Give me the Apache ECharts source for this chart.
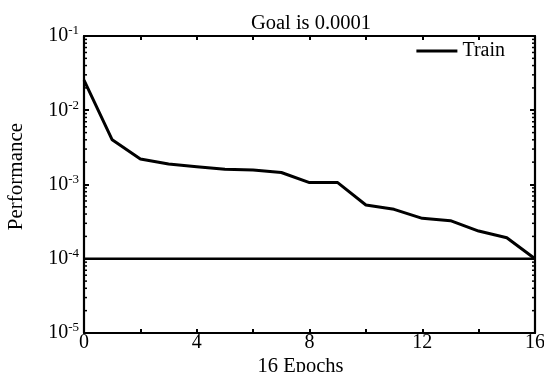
<!DOCTYPE html>
<html>
<head>
<meta charset="utf-8">
<script src="https://cdn.jsdelivr.net/npm/echarts@6/dist/echarts.min.js"></script>
<style>
  html, body { margin: 0; padding: 0; background: #fff; }
  #chart { width: 544px; height: 372px; }
</style>
</head>
<body>
<div id="chart"></div>
<script>
const epochs = [0, 1, 2, 3, 4, 5, 6, 7, 8, 9, 10, 11, 12, 13, 14, 15, 16];
const trainPerf = [0.0255, 0.0040, 0.0022, 0.00189, 0.00174, 0.0016, 0.00157, 0.00145,
  0.00106, 0.00106, 0.00053, 0.000463, 0.00035, 0.000326, 0.000236, 0.000192, 0.0001];
const goal = 0.0001;
const xLabelled = [0, 4, 8, 12, 16];
const decades = [-5, -4, -3, -2];

// minor ticks of the log axis: 2..9 x 10^d
const minorTicks = [];
decades.forEach(d => {
  for (let k = 2; k <= 9; k++) minorTicks.push([0, k * Math.pow(10, d)]);
});

const font = 'Liberation Serif';
const fs = 20;
const chart = echarts.init(document.getElementById('chart'));

const axisLineStyle = { color: '#000', width: 2.2 };

const xCommon = {
  type: 'value',
  min: 0,
  max: 16,
  interval: 2,
  axisLine: { show: true, onZero: false, lineStyle: axisLineStyle },
  axisTick: { show: true, inside: true, length: 4, lineStyle: { color: '#000', width: 2 } },
  splitLine: { show: false }
};

const yCommon = {
  type: 'log',
  logBase: 10,
  min: 1e-5,
  max: 1e-1,
  axisLine: { show: true, onZero: false, lineStyle: axisLineStyle },
  axisTick: { show: true, inside: true, length: 5, lineStyle: { color: '#000', width: 2 } },
  splitLine: { show: false }
};

chart.setOption({
  animation: false,
  backgroundColor: '#fff',
  title: {
    text: 'Goal is 0.0001',
    left: 306,
    textAlign: 'center',
    top: 8,
    textStyle: { fontFamily: font, fontSize: 20.5, fontWeight: 'normal', color: '#000' }
  },
  legend: {
    data: [{ name: 'Train', icon: 'rect' }],
    right: 34,
    top: 36,
    itemWidth: 41,
    itemHeight: 3,
    itemStyle: { color: '#000' },
    textStyle: { fontFamily: font, fontSize: fs, color: '#000' }
  },
  grid: { left: 84, right: 9, top: 36, bottom: 39, outerBoundsMode: 'none' },
  xAxis: [
    Object.assign({}, xCommon, {
      position: 'bottom',
      name: '16 Epochs',
      nameLocation: 'middle',
      nameGap: 23,
      nameMoveOverlap: false,
      nameTextStyle: { fontFamily: font, fontSize: 20.5, color: '#000', padding: [0, 18, 0, 0] },
      axisLabel: {
        margin: 0,
        fontFamily: font,
        fontSize: fs,
        color: '#000',
        formatter: v => (xLabelled.indexOf(v) >= 0 ? String(v) : '')
      }
    }),
    Object.assign({}, xCommon, { position: 'top', axisLabel: { show: false } })
  ],
  yAxis: [
    Object.assign({}, yCommon, {
      position: 'left',
      name: 'Performance',
      nameLocation: 'middle',
      nameGap: 57,
      nameMoveOverlap: false,
      nameTextStyle: { fontFamily: font, fontSize: 21, color: '#000', padding: [0, 0, 0, 16] },
      axisLabel: {
        margin: 5,
        color: '#000',
        formatter: v => '{b|10}{s|' + Math.round(Math.log10(v)) + '}',
        rich: {
          b: { fontFamily: font, fontSize: fs, color: '#000' },
          s: { fontFamily: font, fontSize: 13, color: '#000', verticalAlign: 'top', padding: [0, 0, 10, 0] }
        }
      }
    }),
    Object.assign({}, yCommon, { position: 'right', axisLabel: { show: false } })
  ],
  series: [
    {
      name: 'Goal',
      type: 'line',
      data: [[0, goal], [16, goal]],
      symbol: 'none',
      lineStyle: { color: '#000', width: 2.5 },
      silent: true,
      z: 2
    },
    {
      name: 'Train',
      type: 'line',
      data: epochs.map((e, i) => [e, trainPerf[i]]),
      symbol: 'none',
      color: '#000',
      lineStyle: { color: '#000', width: 3 },
      z: 3
    },
    {
      name: 'minor',
      type: 'custom',
      silent: true,
      data: minorTicks,
      renderItem: (params, api) => {
        const v = api.value(1);
        const l = api.coord([0, v]);
        const r = api.coord([16, v]);
        return {
          type: 'group',
          children: [
            { type: 'line', shape: { x1: l[0], y1: l[1], x2: l[0] + 3, y2: l[1] }, style: { stroke: '#000', lineWidth: 1.5 } },
            { type: 'line', shape: { x1: r[0], y1: r[1], x2: r[0] - 3, y2: r[1] }, style: { stroke: '#000', lineWidth: 1.5 } }
          ]
        };
      }
    }
  ]
});
</script>
</body>
</html>
